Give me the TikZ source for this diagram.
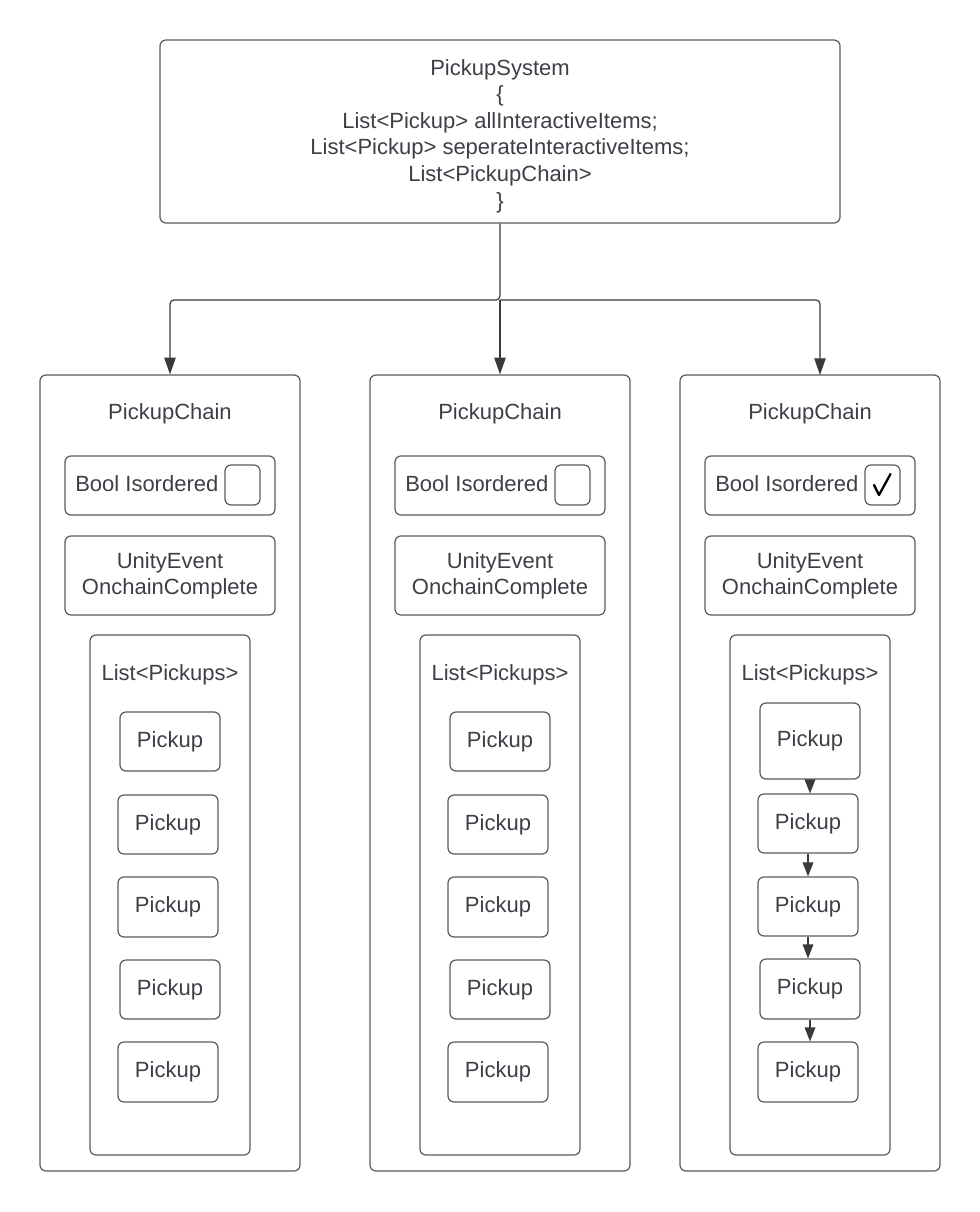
\documentclass[tikz,border=0pt]{standalone}
\usepackage{fontspec}
\setmainfont{Liberation Sans}
\usetikzlibrary{arrows.meta}
\definecolor{txt}{HTML}{3B3F46}
\definecolor{edge}{HTML}{5A5A5A}
\definecolor{arr}{HTML}{3A3A3A}
\tikzset{
  sz/.style 2 args={minimum width={(#1)*0.75pt}, minimum height={(#2)*0.75pt}},
  box/.style={draw=edge, line width=0.9pt, rounded corners=4.5pt, inner sep=0pt,
    text=txt, align=center, font=\fontsize{16.5}{19.5}\selectfont},
  lbl/.style={text=txt, inner sep=0pt, align=center, font=\fontsize{16.5}{19.5}\selectfont},
  link/.style={draw=arr, line width=0.9pt, -{Triangle[length=12.5pt,width=8.5pt]}},
  chain/.style={draw=arr, line width=0.9pt, -{Triangle[length=10.5pt,width=8pt]}},
}
\begin{document}
\begin{tikzpicture}[x=0.75pt,y=-0.75pt]
\useasboundingbox (0,0) rectangle (980,1212);

% top system box
\node[box, sz={680}{183}] (sys) at (500,131.5) {};
\node[lbl, font=\fontsize{16.5}{19.9}\selectfont] (systxt) at (500,136)
  {PickupSystem\\\{\\List<Pickup> allInteractiveItems;\\List<Pickup> seperateInteractiveItems;\\List<PickupChain>\\\}};

% columns
\foreach \cx/\n in {170/1,500/2,810/3} {
  \node[box, sz={260}{796}] (col\n) at (\cx,773) {};
  \node[lbl] (title\n) at (\cx,414) {PickupChain};
  \node[box, sz={210}{59}] (bool\n) at (\cx,485.5) {};
  \node[lbl, anchor=west] (booltxt\n) at (\cx-95,484) {Bool Isordered};
  \node[box, sz={35}{40}] (chk\n) at (\cx+72.5,485) {};
  \node[box, sz={210}{79}] (evt\n) at (\cx,575.5) {UnityEvent\\OnchainComplete};
  \node[box, sz={160}{520}] (list\n) at (\cx,895) {};
  \node[lbl] (listtxt\n) at (\cx,675) {List<Pickups>};
}

% pickups, columns 1 and 2
\foreach \cx/\n in {170/1,500/2} {
  \foreach \dx/\ya/\yb/\k in {0/712/771/1, -2/795/854/2, -2/877/937/3, 0/960/1019/4, -2/1042/1102/5} {
    \node[box, sz={100}{\yb-\ya}] (p\n\k) at ({\cx+\dx},{(\ya+\yb)/2}) {Pickup};
  }
}
% pickups, column 3 (ordered chain)
\foreach \dx/\ya/\yb/\k in {0/703/779/1, -2/794/853/2, -2/877/936/3, 0/959/1019/4, -2/1042/1102/5} {
  \node[box, sz={100}{\yb-\ya}] (p3\k) at ({810+\dx},{(\ya+\yb)/2}) {Pickup};
}
\foreach \a/\b in {1/2,2/3,3/4,4/5} {
  \draw[chain] (p3\a.south) -- (p3\a.south |- p3\b.north);
}

% tick in the third checkbox
\draw[black, line width=1.7pt, line cap=round, line join=round]
  ([shift={(-8.5,0)}]chk3.center) -- ([shift={(-3.5,10)}]chk3.center) -- ([shift={(8,-11)}]chk3.center);

% connectors from the system box
\coordinate (j) at (500,300);
\coordinate (a3) at (820,375);
\draw[link, rounded corners=3pt] (sys.south) -- (j) -| (col1.north);
\draw[link] (j) -- (col2.north);
\draw[link, rounded corners=3pt] (j) -| (a3);
\end{tikzpicture}
\end{document}
